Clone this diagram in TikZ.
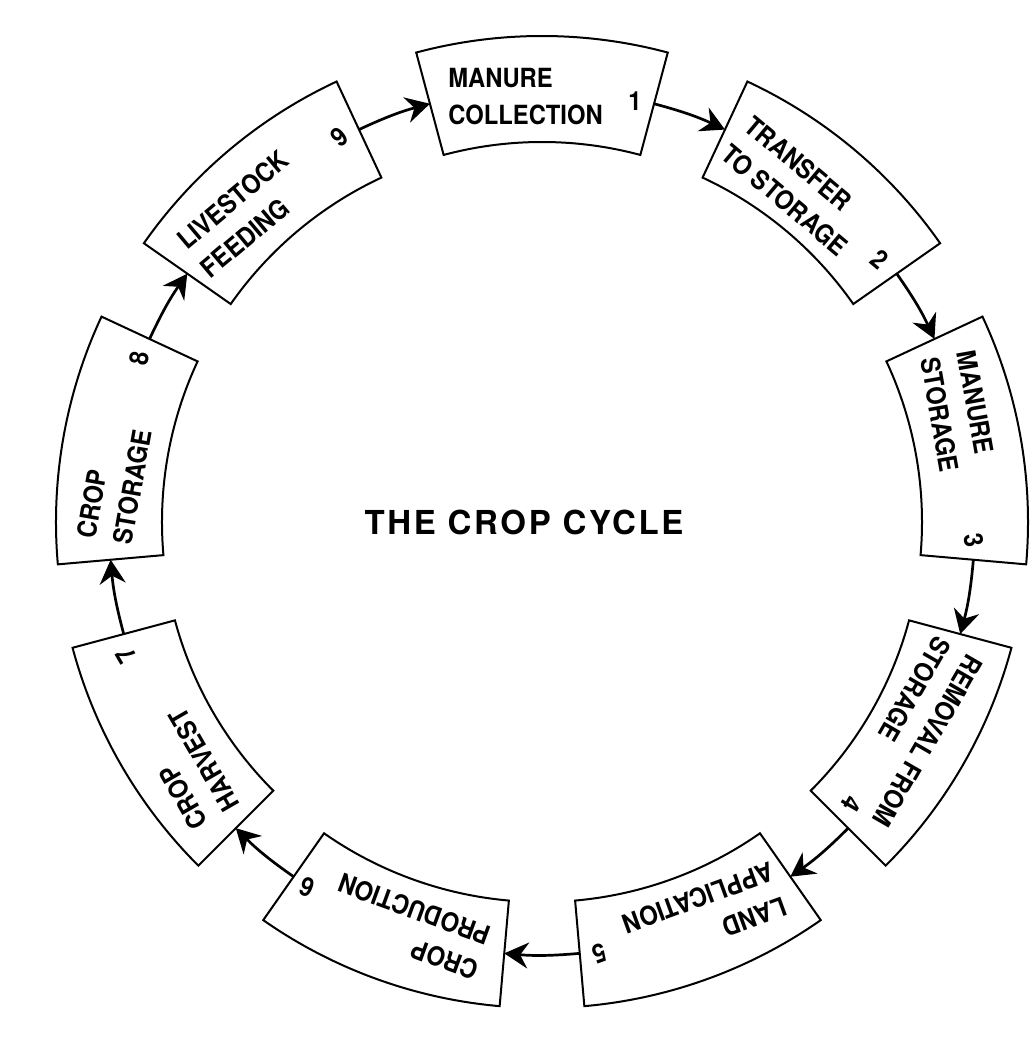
\documentclass[tikz,border=0pt]{standalone}
\usepackage{fontspec}
\setmainfont{TeX Gyre Heros}
\newfontfamily\stagefont{TeX Gyre Heros}[FakeStretch=0.9]
\newfontfamily\titlefont{TeX Gyre Heros}[LetterSpace=8]
\usetikzlibrary{arrows.meta}
\newcommand{\RIn}{380}
\newcommand{\ROut}{486}
\newcommand{\RMid}{433}
\newcommand{\Stage}[8]{%
  \begin{scope}[rotate=#2-90, transform shape]
    \draw[stage line] (105:\RIn) arc[start angle=105, end angle=75, radius=\RIn]
      -- (75:\ROut) arc[start angle=75, end angle=105, radius=\ROut] -- cycle;
    \coordinate (#1-in) at (105:\RMid);
    \coordinate (#1-out) at (75:\RMid);
    \node[stage text, anchor=west] (#1-text) at (#5,#6) {#3};
    \node[stage num] (#1-num) at (#7,#8) {#4};
  \end{scope}%
}
\tikzset{
    stage line/.style={line width=1pt, line join=miter},
    stage text/.style={font=\stagefont\bfseries\fontsize{13.2}{18.5}\selectfont, align=left, inner sep=0pt},
    stage num/.style={font=\stagefont\bfseries\fontsize{13.2}{18.5}\selectfont, inner sep=0pt},
    flow/.style={-{Stealth[length=12pt, width=13pt, inset=4pt]}, line width=1.35pt},
    title text/.style={font=\titlefont\bfseries\fontsize{16.5}{20}\selectfont, inner sep=0pt},
}
\begin{document}
\begin{tikzpicture}[x=0.5pt, y=0.5pt]
    \useasboundingbox (-542,-516) rectangle (492,522);

    \Stage{s1}{90}{MANURE\\COLLECTION}{1}{-94}{425}{93}{421}
    \Stage{s2}{50}{TRANSFER\\TO STORAGE}{2}{-99}{421}{90}{418}
    \Stage{s3}{10}{MANURE\\STORAGE}{3}{-95}{429}{93}{422}
    \Stage{s4}{-30}{REMOVAL FROM\\STORAGE}{4}{-100}{425}{89}{409}
    \Stage{s5}{-70}{LAND\\APPLICATION}{5}{-98}{425}{94}{425}
    \Stage{s6}{-110}{CROP\\PRODUCTION}{6}{-93}{426}{96}{424}
    \Stage{s7}{-150}{CROP\\HARVEST}{7}{-94}{430}{92}{427}
    \Stage{s8}{170}{CROP\\STORAGE}{8}{-95}{428}{91}{425}
    \Stage{s9}{130}{LIVESTOCK\\FEEDING}{9}{-98}{427}{92}{425}

    \node[title text] (title) at (-18,0) {THE CROP CYCLE};

    \draw[flow] (s1-out) to[bend left=5] (s2-in);
    \draw[flow] (s2-out) to[bend left=5] (s3-in);
    \draw[flow] (s3-out) to[bend left=5] (s4-in);
    \draw[flow] (s4-out) to[bend left=5] (s5-in);
    \draw[flow] (s5-out) to[bend left=5] (s6-in);
    \draw[flow] (s6-out) to[bend left=5] (s7-in);
    \draw[flow] (s7-out) to[bend left=5] (s8-in);
    \draw[flow] (s8-out) to[bend left=5] (s9-in);
    \draw[flow] (s9-out) to[bend left=5] (s1-in);
\end{tikzpicture}
\end{document}
